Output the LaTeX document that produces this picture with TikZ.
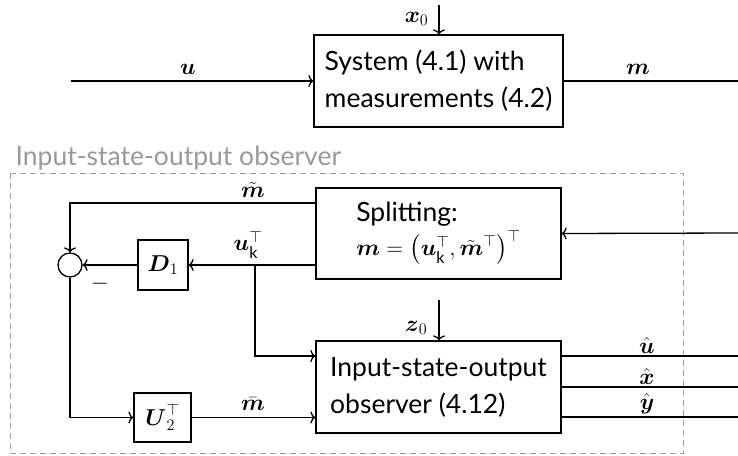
\RequirePackage{fix-cm}
\documentclass[tikz,border=0pt]{standalone}
\usepackage{amsmath}
\usepackage[no-math]{fontspec}
\setmainfont{Lato}
\usetikzlibrary{arrows.meta}
\newcommand{\mfont}{\fontsize{23}{28}\selectfont}

\begin{document}
\begin{tikzpicture}[x=1pt,y=-1pt,
  line width=1.3pt,
  >={To[length=5pt,width=12pt]},
  every node/.style={font=\fontsize{26.5}{37}\selectfont},
  blk/.style={draw, rectangle, inner sep=0pt, align=left},
  lbl/.style={inner sep=0pt, font=\mfont},
  grp/.style={draw=gray!75, line width=1pt, dash pattern=on 6pt off 4pt},
]
\useasboundingbox (0,0) rectangle (738,455);

% plant
\node[blk, minimum width=249pt, minimum height=92pt] (sys) at (438.5,81)
  {System (4.1) with\\measurements (4.2)};
\coordinate (uin) at (71,81);
\coordinate (mout) at (738,81);
\coordinate (x0top) at (439,5);
\draw[->] (uin) -- (sys.west);
\node[lbl, anchor=south] (ulab) at (188,75) {$\boldsymbol{u}$};
\draw (sys.east) -- (mout);
\node[lbl, anchor=south] (mlab) at (638,75) {$\boldsymbol{m}$};
\draw[->] (x0top) -- (sys.north -| x0top);
\node[lbl, anchor=east] (x0lab) at (429,19) {$\boldsymbol{x}_0$};

% observer group
\node[text=gray!80, anchor=base west, inner sep=0pt] (grplab) at (15,165)
  {Input-state-output observer};
\draw[grp] (10,173) rectangle (683,453);

% splitting block
\node[blk, minimum width=245pt, minimum height=91pt] (split) at (438.5,233.5)
  {Splitting:\\[-3pt]{\mfont$\boldsymbol{m}=\bigl(\boldsymbol{u}_{\text{k}}^{\top},\tilde{\boldsymbol{m}}^{\top}\bigr)^{\top}$}};
\coordinate (min) at (738,233);
\draw[->] (min) -- (split.east);

% summation and gains
\node[draw, circle, minimum size=24pt, inner sep=0pt] (sum) at (70,265) {};
\node[blk, minimum width=50pt, minimum height=50pt, align=center, font=\mfont] (D1) at (163,265) {$\boldsymbol{D}_1$};
\node[blk, minimum width=57pt, minimum height=49pt, align=center, font=\mfont] (U2) at (162.5,417.5) {$\boldsymbol{U}_2^{\top}$};

\draw[->] (split.west |- 0,203) -| (sum.north);
\node[lbl, anchor=south] (mtlab) at (253,198) {$\tilde{\boldsymbol{m}}$};
\draw[->] (split.west |- sum) -- (D1.east);
\node[lbl, anchor=south] (uklab) at (248,259) {$\boldsymbol{u}_{\text{k}}^{\top}$};
\draw[->] (D1.west) -- (sum.east);
\node[lbl] (minus) at (100,284) {$-$};

% observer block
\node[blk, minimum width=245pt, minimum height=92pt] (obs) at (438.5,387)
  {Input-state-output\\observer (4.12)};
\coordinate (br) at (255,265);
\draw[->] (br) |- (obs.west |- 0,356);
\draw[->] (sum.south) |- (U2.west);
\draw[->] (U2.east) -- (obs.west |- U2);
\node[lbl, anchor=south] (mblab) at (253,411) {$\bar{\boldsymbol{m}}$};
\coordinate (z0top) at (439,300);
\draw[->] (z0top) -- (obs.north -| z0top);
\node[lbl, anchor=east] (z0lab) at (428,328) {$\boldsymbol{z}_0$};

% observer outputs
\coordinate (oU) at (738,356);
\coordinate (oX) at (738,387);
\coordinate (oY) at (738,417);
\draw (obs.east |- oU) -- (oU);
\draw (obs.east |- oX) -- (oX);
\draw (obs.east |- oY) -- (oY);
\node[lbl, anchor=south] (uhlab) at (647,354) {$\hat{\boldsymbol{u}}$};
\node[lbl, anchor=south] (xhlab) at (647,385) {$\hat{\boldsymbol{x}}$};
\node[lbl, anchor=south] (yhlab) at (647,415) {$\hat{\boldsymbol{y}}$};
\end{tikzpicture}
\end{document}
